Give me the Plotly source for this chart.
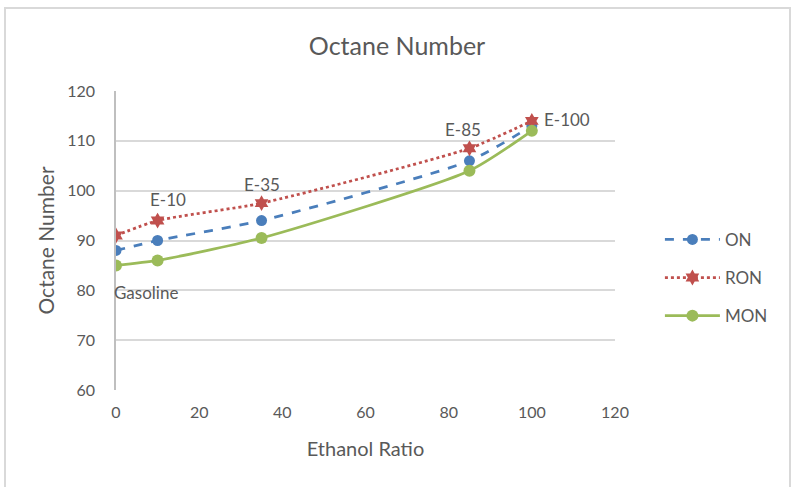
import plotly.graph_objects as go

ratio = [0, 10, 35, 85, 100]
on_vals = [88, 90, 94, 106, 113]
ron_vals = [91, 94, 97.5, 108.5, 114]
mon_vals = [85, 86, 90.5, 104, 112]

labels = ["Gasoline", "E-10", "E-35", "E-85", "E-100"]
label_x = [0, 12.5, 35, 83.5, 102.5]
label_y = [79.5, 98.2, 101.3, 112.2, 114.2]
label_anchor = ["left", "center", "center", "center", "left"]
label_shift = [-4, 0, 0, 0, 0]

FONT = "Lato"
GRAY = "#595959"

fig = go.Figure()
series = [
    ("ON", on_vals, "#4a7ebb", "dash", "circle", 11),
    ("RON", ron_vals, "#c0504d", "dot", "hexagram", 12),
    ("MON", mon_vals, "#9bbb59", "solid", "circle", 12),
]
for i, (name, vals, col, dash, sym, sz) in enumerate(series):
    fig.add_trace(go.Scatter(
        x=ratio, y=vals, name=name, mode="lines+markers",
        line=dict(color=col, width=2.75, dash=dash, shape="spline", smoothing=0.6),
        marker=dict(color=col, symbol=sym, size=sz),
        legendgroup=f"g{i}",
    ))

for t, x, y, a, s in zip(labels, label_x, label_y, label_anchor, label_shift):
    fig.add_annotation(x=x, y=y, text=t, showarrow=False, xanchor=a, xshift=s,
                       yanchor="middle", font=dict(family=FONT, size=17, color=GRAY))

fig.add_shape(type="rect", xref="paper", yref="paper",
              x0=-0.2224, x1=1.3507, y0=-0.45, y1=1.2776,
              line=dict(color="#d9d9d9", width=2), layer="below")

fig.update_layout(
    width=791, height=487,
    margin=dict(l=116, r=176, t=91, b=97),
    paper_bgcolor="white", plot_bgcolor="white",
    font=dict(family=FONT, size=16, color=GRAY),
    title=dict(text="Octane Number", x=397 / 791, xref="container", xanchor="center",
               y=1 - 46 / 487, yref="container", yanchor="middle",
               font=dict(family=FONT, size=25, color=GRAY)),
    legend=dict(x=1.09, y=0.375, xanchor="left", yanchor="middle",
                tracegroupgap=13, itemwidth=55,
                font=dict(family=FONT, size=17, color=GRAY)),
    xaxis=dict(range=[0, 120], tickvals=[0, 20, 40, 60, 80, 100, 120],
               showgrid=False, zeroline=False, showline=False,
               ticks="", ticklabelstandoff=11,
               tickfont=dict(family=FONT, size=16, color=GRAY),
               title=dict(text="Ethanol Ratio", standoff=21,
                          font=dict(family=FONT, size=20, color=GRAY))),
    yaxis=dict(range=[60, 120], tickvals=[60, 70, 80, 90, 100, 110, 120],
               showgrid=True, gridcolor="#d9d9d9", gridwidth=1.5,
               zeroline=False, showline=True, linecolor="#bfbfbf", linewidth=1.5,
               ticks="", ticklabelstandoff=16,
               tickfont=dict(family=FONT, size=16, color=GRAY),
               title=dict(text="Octane Number", standoff=7,
                          font=dict(family=FONT, size=21, color=GRAY))),
)

fig.write_html("out.html")
